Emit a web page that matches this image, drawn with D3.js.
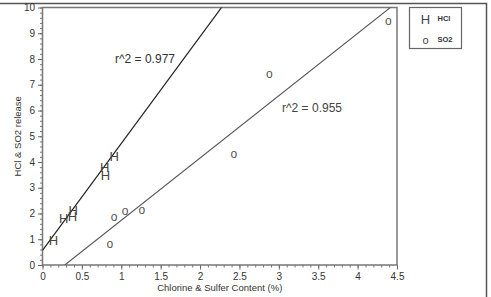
<!DOCTYPE html>
<html>
<head>
<meta charset="utf-8">
<script src="https://cdn.jsdelivr.net/npm/d3@7"></script>
<style>
  body { margin: 0; background: #fff; }
  svg { display: block; font-family: "Liberation Sans", Arial, sans-serif; }
</style>
</head>
<body>
<div id="chart"></div>
<script>
// Data
const hclX = [0.14, 0.27, 0.38, 0.39, 0.79, 0.80, 0.91];
const hclY = [0.97, 1.80, 1.90, 2.13, 3.81, 3.50, 4.22];
const so2X = [0.855, 0.91, 1.05, 1.26, 2.43, 2.88, 4.39];
const so2Y = [0.80, 1.85, 2.09, 2.12, 4.30, 7.40, 9.47];
// fitted lines as drawn (slope, intercept)
const hclFit = [4.15, 0.57];
const so2Fit = [2.42, -0.686];
const fitLabels = ["r^2 = 0.977", "r^2 = 0.955"];
const xTicks = [0, 0.5, 1, 1.5, 2, 2.5, 3, 3.5, 4, 4.5];
const yTicks = [0, 1, 2, 3, 4, 5, 6, 7, 8, 9, 10];

const W = 491, H = 297;
const margin = {top: 7.5, right: 94, bottom: 32, left: 42.5};
const w = W - margin.left - margin.right;
const h = H - margin.top - margin.bottom;

const svg = d3.select("#chart").append("svg")
    .attr("width", W).attr("height", H);

// outer frame (top and right edges)
svg.append("path")
    .attr("d", `M0,3.5H486.5V${H}`)
    .attr("fill", "none").attr("stroke", "#555").attr("stroke-width", 1.5);

const g = svg.append("g").attr("transform", `translate(${margin.left},${margin.top})`);

const x = d3.scaleLinear().domain([0, 4.5]).range([0, w]);
const y = d3.scaleLinear().domain([0, 10]).range([h, 0]);

// minor ticks
const xAxisMinor = d3.axisBottom(x).tickValues(d3.range(0, 4.501, 0.1)).tickSize(2.5).tickFormat("");
const yAxisMinor = d3.axisLeft(y).tickValues(d3.range(0, 10.01, 0.2)).tickSize(2.5).tickFormat("");
g.append("g").attr("transform", `translate(0,${h})`).call(xAxisMinor)
    .call(a => a.select(".domain").remove())
    .selectAll("line").attr("stroke", "#777");
g.append("g").call(yAxisMinor)
    .call(a => a.select(".domain").remove())
    .selectAll("line").attr("stroke", "#777");

// major axes
const xAxis = g.append("g").attr("transform", `translate(0,${h})`)
    .call(d3.axisBottom(x).tickValues(xTicks).tickSize(4.5).tickPadding(3).tickFormat(d3.format("")));
const yAxis = g.append("g")
    .call(d3.axisLeft(y).tickValues(yTicks).tickSize(4.5).tickPadding(3).tickFormat(d3.format("")));
[xAxis, yAxis].forEach(a => {
    a.select(".domain").remove();
    a.selectAll("line").attr("stroke", "#666");
    a.selectAll("text").attr("fill", "#333").style("font-size", "10px");
});

// plot frame
g.append("rect")
    .attr("width", w).attr("height", h)
    .attr("fill", "none").attr("stroke", "#777").attr("stroke-width", 1.5);

// fit lines clipped to plot area
svg.append("clipPath").attr("id", "clip")
    .append("rect").attr("width", w).attr("height", h);
const lines = g.append("g").attr("clip-path", "url(#clip)");
const fitLine = (fit, x0) => d3.line()
    .x(d => x(d))
    .y(d => y(fit[0] * d + fit[1]))([x0, 4.5]);
lines.append("path").attr("d", fitLine(hclFit, 0))
    .attr("fill", "none").attr("stroke", "#222").attr("stroke-width", 1.2);
lines.append("path").attr("d", fitLine(so2Fit, -so2Fit[1] / so2Fit[0]))
    .attr("fill", "none").attr("stroke", "#555").attr("stroke-width", 1.1);

// markers
g.selectAll(".hcl").data(hclX).join("text")
    .attr("class", "hcl")
    .attr("x", d => x(d)).attr("y", (d, i) => y(hclY[i]))
    .attr("text-anchor", "middle").attr("dy", "0.36em")
    .attr("fill", "#444").style("font-size", "13px")
    .text("H");
g.selectAll(".so2").data(so2X).join("text")
    .attr("class", "so2")
    .attr("x", d => x(d)).attr("y", (d, i) => y(so2Y[i]))
    .attr("text-anchor", "middle").attr("dy", "0.3em")
    .attr("fill", "#555").style("font-size", "12px")
    .text("o");

// r^2 labels
g.append("text").attr("x", x(0.92)).attr("y", y(7.85))
    .attr("fill", "#333").style("font-size", "12px").text(fitLabels[0]);
g.append("text").attr("x", x(3.04)).attr("y", y(5.95))
    .attr("fill", "#444").style("font-size", "12px").text(fitLabels[1]);

// axis titles
svg.append("text")
    .attr("x", margin.left + w / 2).attr("y", 291)
    .attr("text-anchor", "middle").attr("fill", "#333")
    .style("font-size", "9.5px").text("Chlorine & Sulfer Content (%)");
svg.append("text")
    .attr("transform", `translate(21,${margin.top + h / 2}) rotate(-90)`)
    .attr("text-anchor", "middle").attr("fill", "#333")
    .style("font-size", "9.5px").text("HCl & SO2 release");

// legend
const lg = svg.append("g").attr("transform", "translate(409.5,7.5)");
lg.append("rect").attr("width", 52).attr("height", 41)
    .attr("fill", "#fff").attr("stroke", "#666").attr("stroke-width", 1.2);
lg.append("text").attr("x", 16).attr("y", 16).attr("text-anchor", "middle")
    .attr("fill", "#444").style("font-size", "13px").text("H");
lg.append("text").attr("x", 16).attr("y", 36).attr("text-anchor", "middle")
    .attr("fill", "#444").style("font-size", "11px").text("o");
lg.append("text").attr("x", 28).attr("y", 13)
    .attr("fill", "#333").style("font-size", "7.5px").style("font-weight", "bold").text("HCl");
lg.append("text").attr("x", 28).attr("y", 34)
    .attr("fill", "#333").style("font-size", "7.5px").style("font-weight", "bold").text("SO2");
</script>
</body>
</html>
